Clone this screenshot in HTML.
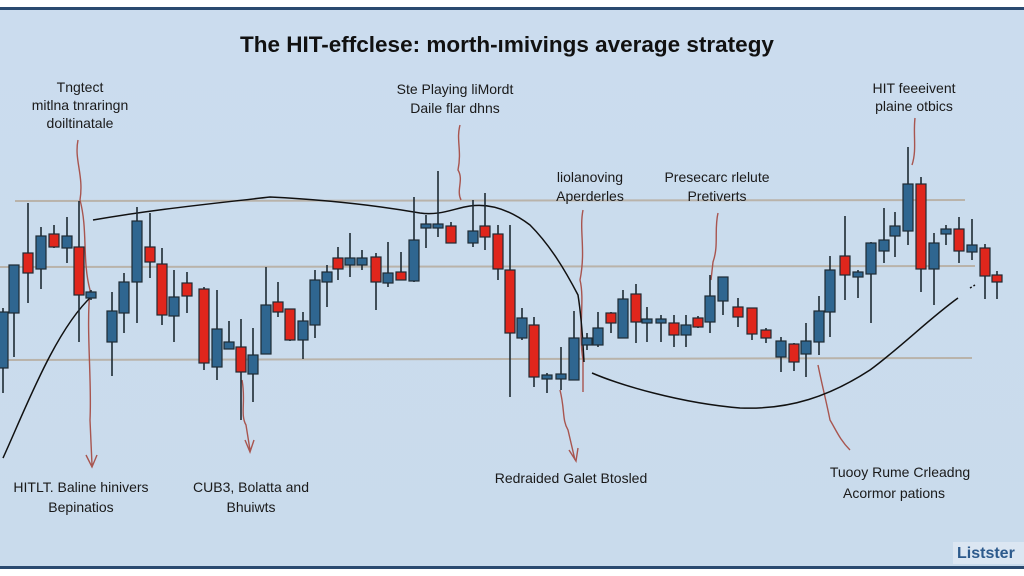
<!DOCTYPE html>
<html><head><meta charset="utf-8"><style>
html,body{margin:0;padding:0;background:#fff}
svg{display:block}
text{font-family:"Liberation Sans",sans-serif;fill:#1a1a1a}
</style></head><body>
<svg id="s" width="1024" height="576" viewBox="0 0 1024 576" xmlns="http://www.w3.org/2000/svg">
<defs><linearGradient id="bg" x1="0" y1="0" x2="0" y2="1"><stop offset="0" stop-color="#cbdcee"/><stop offset="1" stop-color="#c9dbec"/></linearGradient></defs>
<rect x="0" y="0" width="1024" height="576" fill="#fff"/>
<rect x="0" y="9" width="1024" height="558" fill="url(#bg)"/>
<rect x="0" y="7" width="1024" height="3" fill="#2a4a70"/>
<rect x="0" y="566" width="1024" height="3" fill="#2a4a70"/>
<line x1="15" y1="201" x2="965" y2="200" stroke="#b9b3aa" stroke-width="2"/>
<line x1="0" y1="267" x2="975" y2="266" stroke="#b9b3aa" stroke-width="2"/>
<line x1="8" y1="360" x2="972" y2="358" stroke="#b9b3aa" stroke-width="2"/>
<g fill="none" stroke="#a8554f" stroke-width="1.4">
<path d="M78,140 C74,160 84,175 80,200 C88,230 82,260 90,290 C86,330 92,380 90,420 L92,465 M86,455 L92,467 L97,455"/>
<path d="M460,125 C456,140 462,150 458,170 C464,180 456,190 461,200"/>
<path d="M583,210 C579,230 586,250 580,280 C585,300 578,330 583,360 L583,392"/>
<path d="M718,213 C714,230 719,245 713,262 L711,280"/>
<path d="M915,118 C913,135 917,150 912,165"/>
<path d="M818,365 C822,385 826,400 830,420 C836,430 840,440 850,450"/>
<path d="M242,380 C246,400 240,415 246,425 L250,450 M245,440 L250,452 L254,440"/>
<path d="M560,390 C565,410 562,420 568,430 L575,460 M569,450 L576,461 L578,448"/>
</g>
<g fill="none" stroke="#111" stroke-width="1.5">
<path d="M3,458 C25,410 55,330 92,296"/>
<path d="M93,220 C150,210 200,205 270,197 C330,200 380,206 420,213 C440,216 455,208 470,206 C490,203 510,210 530,225 C550,245 565,270 578,295 C582,320 583,345 584,362"/>
<path d="M592,373 C620,385 680,403 740,408 C790,410 830,396 870,370 C900,348 930,318 958,298"/>
<path d="M970,288 L975,285" stroke-dasharray="2 2"/>
</g>
<g id="c"></g>
<text x="507" y="52" text-anchor="middle" font-size="22.5" font-weight="bold" style="fill:#111">The HIT-effclese: morth-ımivings average strategy</text>
<g font-size="14" text-anchor="middle">
<text x="80" y="92">Tngtect</text><text x="80" y="110">mitlna tnraringn</text><text x="80" y="128">doiltinatale</text>
<text x="455" y="94">Ste Playing liMordt</text><text x="455" y="113">Daile flar dhns</text>
<text x="590" y="182">liolanoving</text><text x="590" y="201">Aperderles</text>
<text x="717" y="182">Presecarc rlelute</text><text x="717" y="201">Pretiverts</text>
<text x="914" y="93">HIT feeeivent</text><text x="914" y="111">plaine otbics</text>
<text x="81" y="492">HITLT. Baline hinivers</text><text x="81" y="512">Bepinatios</text>
<text x="251" y="492">CUB3, Bolatta and</text><text x="251" y="512">Bhuiwts</text>
<text x="571" y="483">Redraided Galet Btosled</text>
<text x="900" y="477">Tuooy Rume Crleadng</text><text x="894" y="498">Acormor pations</text>
</g>
<rect x="953" y="542" width="71" height="22" fill="#dbe6f2"/>
<text x="957" y="558" font-size="16" font-weight="bold" style="fill:#2d5a8c">Listster</text>
</svg>
<script>
var d=[[3,308,393,312,368,0],[14,265,357,265,313,0],[28,203,303,253,273,1],[41,227,289,236,269,0],[54,225,248,234,247,1],[67,217,263,236,248,0],[79,201,342,247,295,1],[91,290,300,292,298,0],[112,292,376,311,342,0],[124,273,333,282,313,0],[137,207,323,221,282,0],[150,213,278,247,262,1],[162,248,325,264,315,1],[174,270,342,297,316,0],[187,272,313,283,296,1],[204,287,370,289,363,1],[217,290,380,329,367,0],[229,321,348,342,349,0],[241,319,420,347,372,1],[253,328,402,355,374,0],[266,267,353,305,354,0],[278,282,317,302,312,1],[290,309,341,309,340,1],[303,312,359,321,340,0],[315,270,338,280,325,0],[327,265,307,272,282,0],[338,247,280,258,269,1],[350,233,277,258,265,0],[362,250,270,258,265,0],[376,253,310,257,282,1],[388,242,287,273,283,0],[401,252,280,272,280,1],[414,197,282,240,281,0],[426,215,248,224,228,0],[438,171,237,224,228,0],[451,222,243,226,243,1],[473,200,247,231,243,0],[485,193,250,226,237,1],[498,225,280,234,269,1],[510,225,397,270,333,1],[522,308,340,318,338,0],[534,317,387,325,377,1],[547,373,393,375,379,0],[561,347,390,374,379,0],[574,311,380,338,380,0],[587,333,350,338,345,0],[598,312,347,328,345,0],[611,312,333,313,323,1],[623,290,338,299,338,0],[636,284,343,294,322,1],[647,307,342,319,323,0],[661,315,342,319,323,0],[674,315,347,323,335,1],[686,315,347,325,335,0],[698,316,328,318,327,1],[710,275,333,296,322,0],[723,277,315,277,301,0],[738,298,327,307,317,1],[752,308,340,308,334,1],[766,328,343,330,338,1],[781,337,372,341,357,0],[794,343,371,344,362,1],[806,323,377,341,354,0],[819,296,355,311,342,0],[830,256,337,270,312,0],[845,216,300,256,275,1],[858,270,298,272,277,0],[871,242,323,243,274,0],[884,208,263,240,251,0],[895,212,257,226,236,0],[908,147,245,184,231,0],[921,177,292,184,269,1],[934,233,305,243,269,0],[946,225,245,229,234,0],[959,217,263,229,251,1],[972,219,260,245,252,0],[985,244,299,248,276,1],[997,271,299,275,282,1]];
var g=document.getElementById('c'),h='';
d.forEach(function(c){var col=c[5]?'#e0261c':'#2f6690';
h+='<line x1="'+c[0]+'" y1="'+c[1]+'" x2="'+c[0]+'" y2="'+c[2]+'" stroke="#1e2a33" stroke-width="1.6"/>';
h+='<rect x="'+(c[0]-5)+'" y="'+c[3]+'" width="10" height="'+Math.max(3,c[4]-c[3])+'" fill="'+col+'" stroke="#1e2a33" stroke-width="1.2"/>';});
g.innerHTML=h;
</script>
</body></html>
